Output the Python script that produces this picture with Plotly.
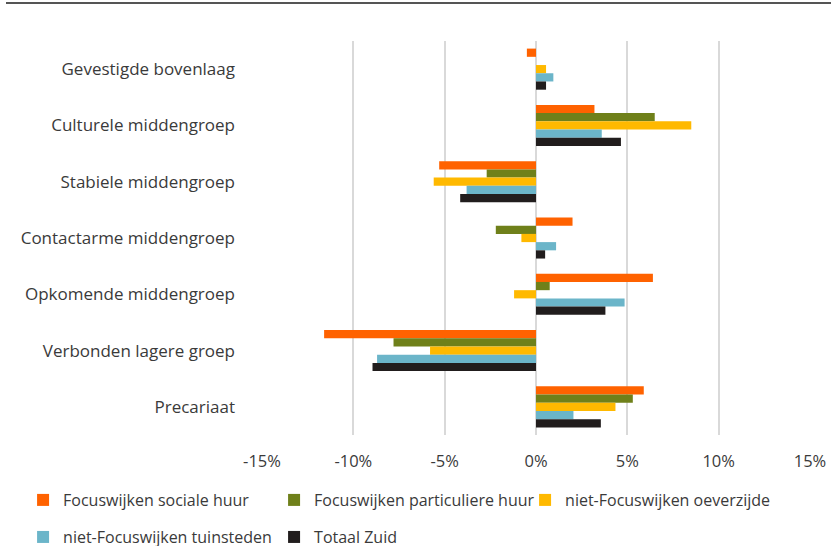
import plotly.graph_objects as go

categories = [
    "Gevestigde bovenlaag",
    "Culturele middengroep",
    "Stabiele middengroep",
    "Contactarme middengroep",
    "Opkomende middengroep",
    "Verbonden lagere groep",
    "Precariaat",
]

# values in %
sociale_huur = [-0.5, 3.2, -5.3, 2.0, 6.4, -11.6, 5.9]
particuliere_huur = [0.0, 6.5, -2.7, -2.2, 0.75, -7.8, 5.3]
oeverzijde = [0.55, 8.5, -5.6, -0.8, -1.2, -5.8, 4.35]
tuinsteden = [0.95, 3.6, -3.8, 1.1, 4.85, -8.7, 2.05]
totaal_zuid = [0.55, 4.65, -4.15, 0.5, 3.8, -8.95, 3.55]

tick_vals = [-15, -10, -5, 0, 5, 10, 15]
tick_text = ["-15%", "-10%", "-5%", "0%", "5%", "10%", "15%"]

series = [
    ("Focuswijken sociale huur", sociale_huur, "#FF6200", "legend"),
    ("Focuswijken particuliere huur", particuliere_huur, "#6F801A", "legend"),
    ("niet-Focuswijken oeverzijde", oeverzijde, "#FFB900", "legend"),
    ("niet-Focuswijken tuinsteden", tuinsteden, "#6BB5C9", "legend2"),
    ("Totaal Zuid", totaal_zuid, "#211D1D", "legend2"),
]

FONT = "Open Sans"
TXT = "#3a3a3a"

fig = go.Figure()
for name, vals, color, leg in series:
    fig.add_trace(go.Bar(
        y=categories, x=vals, name=name, orientation="h",
        marker=dict(color=color, line=dict(width=0)), legend=leg,
    ))

leg_common = dict(orientation="h", x=-0.436, xanchor="left", yanchor="middle",
                  font=dict(size=16, color=TXT), itemwidth=30, entrywidth=206,
                  bgcolor="rgba(0,0,0,0)")
fig.update_layout(
    width=831, height=546,
    margin=dict(l=262, r=21, t=41, b=111, autoexpand=False),
    paper_bgcolor="white", plot_bgcolor="white",
    barmode="group", bargap=0.27, bargroupgap=0,
    font=dict(family=FONT, size=17, color=TXT),
    legend=dict(leg_common, y=-0.165),
    legend2=dict(leg_common, y=-0.259),
    shapes=[dict(type="line", xref="paper", yref="paper",
                 x0=-256 / 548, x1=1 + 21 / 548, y0=1 + 38 / 394, y1=1 + 38 / 394,
                 line=dict(color="#555555", width=2))],
)
fig.update_xaxes(
    range=[-15, 15], tickvals=tick_vals, ticktext=tick_text,
    showgrid=True, gridcolor="#D9D9D9", gridwidth=2,
    zeroline=True, zerolinecolor="#D9D9D9", zerolinewidth=2,
    showline=False, ticklabelstandoff=14, tickfont=dict(size=16.5, color=TXT),
    automargin=False,
)
fig.update_yaxes(
    autorange="reversed", showgrid=False, showline=False, zeroline=False,
    ticklabelstandoff=26, tickfont=dict(size=17, color=TXT), automargin=False,
)

fig.write_html("out.html", config={"displayModeBar": False},
               post_script="document.body.style.margin='0';")
